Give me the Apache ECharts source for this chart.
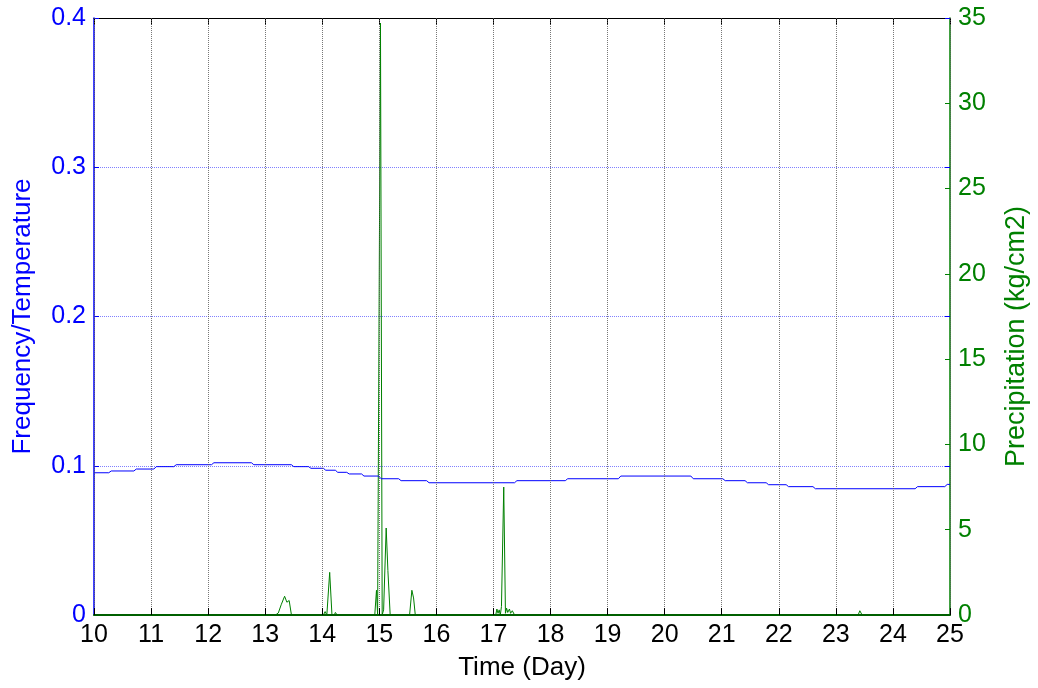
<!DOCTYPE html>
<html>
<head>
<meta charset="utf-8">
<script src="https://cdn.jsdelivr.net/npm/echarts@6/dist/echarts.min.js"></script>
<style>
  html, body { margin: 0; padding: 0; background: #fff; }
  #chart { width: 1038px; height: 688px; }
</style>
</head>
<body>
<div id="chart"></div>
<script>
// Time axis (days) and tick labels
const dayTicks = [10, 11, 12, 13, 14, 15, 16, 17, 18, 19, 20, 21, 22, 23, 24, 25];
const freqTicks = [0, 0.1, 0.2, 0.3, 0.4];
const precipTicks = [0, 5, 10, 15, 20, 25, 30, 35];

// Frequency/Temperature: piecewise-constant levels (start day, end day, value)
const tempStart = [10.00, 10.28, 10.72, 11.07, 11.42, 12.08, 12.78, 13.48, 13.78, 14.04, 14.25, 14.45, 14.71, 15.01,
                   15.36, 15.85, 17.39, 18.28, 19.21, 20.48, 21.04, 21.43, 21.80, 22.15, 22.62, 24.41, 24.93];
const tempEnd   = [10.28, 10.72, 11.07, 11.42, 12.08, 12.78, 13.48, 13.78, 14.04, 14.25, 14.45, 14.71, 15.01, 15.36,
                   15.85, 17.39, 18.28, 19.21, 20.48, 21.04, 21.43, 21.80, 22.15, 22.62, 24.41, 24.93, 25.00];
const tempValue = [0.0953, 0.0965, 0.0978, 0.0994, 0.1007, 0.1020, 0.1007, 0.0994, 0.0983, 0.0970, 0.0956, 0.0945, 0.0931, 0.0913,
                   0.0900, 0.0886, 0.0900, 0.0913, 0.0931, 0.0913, 0.0900, 0.0886, 0.0873, 0.0860, 0.0846, 0.0860, 0.0875];

// Precipitation (kg/cm2) samples
const precipDays = [10.00, 13.18, 13.23, 13.28, 13.34, 13.38, 13.42, 13.46,
                    14.02, 14.05, 14.08, 14.13, 14.17, 14.21, 14.23, 14.26,
                    14.92, 14.95, 14.97, 15.02, 15.05, 15.075, 15.12, 15.15, 15.19,
                    15.53, 15.57, 15.60, 15.63,
                    17.04, 17.06, 17.08, 17.10, 17.12, 17.14, 17.18, 17.21, 17.23, 17.25, 17.28, 17.30, 17.33, 17.37,
                    23.39, 23.42, 23.46, 25.00];
const precipVals = [0, 0, 0.12, 0.6, 1.1, 0.75, 0.85, 0,
                    0, 0.2, 0, 2.5, 0, 0, 0.15, 0,
                    0, 1.45, 0, 34.7, 0, 0.3, 5.1, 2.6, 0,
                    0, 1.45, 1.0, 0,
                    0, 0.35, 0.1, 0.3, 0, 0.5, 7.5, 0.1, 0.4, 0.15, 0.35, 0.1, 0.25, 0,
                    0, 0.25, 0, 0];

const BLUE = '#0000ff';
const GREEN = '#008000';
const FONT = 'Liberation Sans, Arial, sans-serif';
const FS = 25;      // tick labels
const NAME_FS = 26; // axis titles

// each level is a flat run; neighbouring levels are joined by a short slant
const tempData = [];
tempStart.forEach((s, i) => {
  tempData.push([i === 0 ? s : s + 0.021, tempValue[i]]);
  tempData.push([i === tempStart.length - 1 ? tempEnd[i] : tempEnd[i] - 0.021, tempValue[i]]);
});
const precipData = precipDays.map((d, i) => [d, precipVals[i]]);

const chart = echarts.init(document.getElementById('chart'), null, { renderer: 'canvas' });
chart.setOption({
  animation: false,
  backgroundColor: '#ffffff',
  grid: { left: 94, right: 87, top: 18, bottom: 73, containLabel: false },
  xAxis: [
    {
      type: 'value', min: dayTicks[0], max: dayTicks[dayTicks.length - 1], interval: 1,
      position: 'bottom', z: 5,
      name: 'Time (Day)', nameLocation: 'middle', nameGap: 40,
      nameTextStyle: { color: '#000', fontSize: NAME_FS, fontFamily: FONT },
      axisLine: { onZero: false, lineStyle: { color: '#006000', width: 2 } },
      axisTick: { inside: true, length: 7, lineStyle: { color: '#000' } },
      axisLabel: { color: '#000', fontSize: FS, fontFamily: FONT, margin: 8 },
      splitLine: { show: true, lineStyle: { color: '#555', type: [1, 1], width: 1, opacity: 0.8 } }
    },
    {
      type: 'value', min: dayTicks[0], max: dayTicks[dayTicks.length - 1], interval: 1,
      position: 'top',
      axisLine: { onZero: false, lineStyle: { color: '#000', width: 1 } },
      axisTick: { inside: true, length: 7, lineStyle: { color: '#000' } },
      axisLabel: { show: false },
      splitLine: { show: false }
    }
  ],
  yAxis: [
    {
      type: 'value', min: freqTicks[0], max: freqTicks[freqTicks.length - 1], interval: 0.1,
      position: 'left',
      name: 'Frequency/Temperature', nameLocation: 'middle', nameGap: 58, nameRotate: 90,
      nameTextStyle: { color: BLUE, fontSize: NAME_FS, fontFamily: FONT },
      axisLine: { show: true, onZero: false, lineStyle: { color: BLUE, width: 1.5 } },
      axisTick: { show: true, inside: true, length: 5, lineStyle: { color: BLUE } },
      axisLabel: { color: BLUE, fontSize: FS, fontFamily: FONT, margin: 8,
                   formatter: v => (v === 0 ? '0' : v.toFixed(1)) },
      splitLine: { show: true, lineStyle: { color: '#6060ff', type: [1, 1], width: 1, opacity: 0.8 } }
    },
    {
      type: 'value', min: precipTicks[0], max: precipTicks[precipTicks.length - 1], interval: 5,
      position: 'right',
      name: 'Precipitation (kg/cm2)', nameLocation: 'middle', nameGap: 53, nameRotate: 90,
      nameTextStyle: { color: GREEN, fontSize: 27, fontFamily: FONT, padding: [0, 40, 0, 0] },
      axisLine: { show: true, onZero: false, lineStyle: { color: GREEN, width: 1.5 } },
      axisTick: { show: true, inside: true, length: 5, lineStyle: { color: GREEN } },
      axisLabel: { color: GREEN, fontSize: FS, fontFamily: FONT, margin: 8 },
      splitLine: { show: false }
    },
    {
      // mirrored frequency ticks on the right edge
      type: 'value', min: freqTicks[0], max: freqTicks[freqTicks.length - 1], interval: 0.1,
      position: 'right',
      axisLine: { show: false },
      axisTick: { show: true, inside: true, length: 5, lineStyle: { color: BLUE } },
      axisLabel: { show: false },
      splitLine: { show: false }
    }
  ],
  series: [
    {
      name: 'Frequency/Temperature', type: 'line', xAxisIndex: 0, yAxisIndex: 0,
      data: tempData, showSymbol: false, silent: true, smooth: false,
      lineStyle: { color: BLUE, width: 1 }
    },
    {
      name: 'Precipitation', type: 'line', xAxisIndex: 0, yAxisIndex: 1,
      data: precipData, showSymbol: false, silent: true, clip: false, smooth: false, z: 1,
      lineStyle: { color: GREEN, width: 1 }
    }
  ]
});
</script>
</body>
</html>
